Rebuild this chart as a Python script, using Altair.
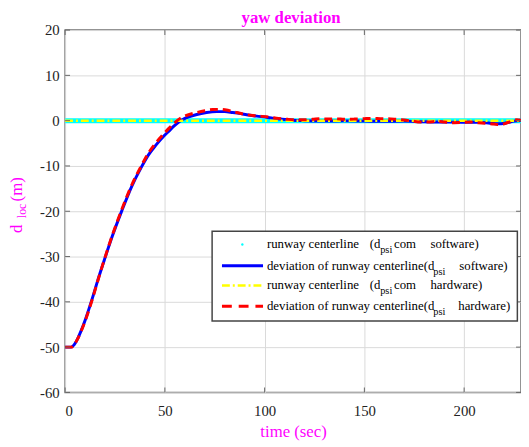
import altair as alt
import pandas as pd

# ---------------- data ----------------
t_sw = [0, 3, 4.5, 6, 8, 10.4, 13.6, 16.9, 20, 23.5, 28.5, 33.4, 38.3, 41.7, 45.5, 49.5, 52,
        54.8, 57.3, 60, 65.5, 70.9, 76, 80, 84, 88, 91, 96, 101, 104, 108, 114, 120,
        130, 140, 150, 160, 170, 180, 190, 200, 207, 213, 217, 221, 225, 228.5]
d_sw = [-50, -50, -49.5, -48.4, -46.4, -43.6, -39.3, -34.5, -30.3, -25.7, -19.8, -14.5, -10.2,
        -7.6, -5.4, -3.4, -2.3, -1.1, -0.2, 0.5, 1.3, 1.8, 2.0, 2.0, 1.8, 1.55, 1.3, 1.0, 0.75,
        0.55, 0.35, 0.1, 0.0, -0.1, -0.05, -0.1, -0.15, -0.1, -0.25, -0.3, -0.35,
        -0.35, -0.55, -0.7, -0.5, -0.1, 0.1]

t_hw = [0, 3, 4.5, 6, 8, 10.4, 13.6, 16.9, 20, 23.5, 28.5, 33.4, 38.3, 41.7, 45.5, 49.5, 52,
        54.8, 57.3, 60, 65.5, 70, 74, 78, 82, 86, 90, 95, 102, 107, 111.6, 116, 120, 124,
        128, 132, 136, 140, 145, 150, 154, 158, 162, 166, 170, 174, 178, 182, 186.6, 190, 194.8,
        199, 203, 207, 211, 215, 218, 222, 226.4, 228.5]
d_hw = [-50, -50, -49.5, -48.4, -46.5, -43.8, -39.5, -34.6, -30.2, -25.5, -19.5, -14.2, -9.9,
        -7.2, -4.9, -2.9, -1.7, -0.5, 0.4, 1.0, 1.75, 2.2, 2.45, 2.5, 2.25,
        1.8, 1.4, 1.1, 0.8, 0.5, 0.3, 0.2, 0.2, 0.3, 0.43, 0.35, 0.4, 0.3, 0.35, 0.45, 0.5, 0.45,
        0.43, 0.3, 0.13, -0.1, -0.3, -0.3, -0.15, -0.3, -0.45, -0.4, -0.3, -0.45, -0.6, -0.75,
        -0.9, -0.4, 0.2, 0.1]

t_ref = [0, 228.5]
d_ref = [0, 0]

x_ticks = [0, 50, 100, 150, 200]
y_ticks = [-60, -50, -40, -30, -20, -10, 0, 10, 20]

# ---------------- style ----------------
SERIF = "Liberation Serif"
MAG = "#ff00ff"
W, H = 463, 368
X_MAX = 228.5

x_enc = alt.X("t:Q", scale=alt.Scale(domain=[0, X_MAX], nice=False, zero=False),
              axis=alt.Axis(values=x_ticks, title="time (sec)", labelExpr="'' + datum.value"))
y_enc = alt.Y("v:Q", scale=alt.Scale(domain=[-60, 20], nice=False),
              axis=alt.Axis(values=y_ticks, title=None, labelExpr="'' + datum.value"))

one = pd.DataFrame({"a": [0]})


def curve(ts, vs, color, width, dash=None):
    df = pd.DataFrame({"t": ts, "v": vs})
    kw = dict(color=color, strokeWidth=width, interpolate="monotone", clip=True)
    if dash:
        kw["strokeDash"] = dash
    return alt.Chart(df).mark_line(**kw).encode(x=x_enc, y=y_enc)


cyan = curve(t_ref, d_ref, "#00ffff", 5)
blue = curve(t_sw, d_sw, "#0000ff", 3)
yellow = curve(t_ref, d_ref, "#ffff00", 2.5, [8, 3, 2, 3])
red = curve(t_hw, d_hw, "#ff0000", 3, [8, 5])

# inside ticks
xt = pd.DataFrame({"t": x_ticks})
yt = pd.DataFrame({"v": y_ticks})
TK = "#666666"
ticks = [
    alt.Chart(xt).mark_rule(color=TK, strokeWidth=1).encode(x=x_enc, y=alt.value(H), y2=alt.value(H - 5)),
    alt.Chart(xt).mark_rule(color=TK, strokeWidth=1).encode(x=x_enc, y=alt.value(0), y2=alt.value(5)),
    alt.Chart(yt).mark_rule(color=TK, strokeWidth=1).encode(y=y_enc, x=alt.value(0), x2=alt.value(5)),
    alt.Chart(yt).mark_rule(color=TK, strokeWidth=1).encode(y=y_enc, x=alt.value(W), x2=alt.value(W - 5)),
]


def txt(s, x, y, size=13.0, color="black", angle=0, baseline="middle", align="left", weight="normal"):
    return alt.Chart(one).mark_text(text=s, font=SERIF, fontSize=size, align=align,
                                    baseline=baseline, color=color, angle=angle,
                                    fontWeight=weight).encode(
        x=alt.value(x), y=alt.value(y))


# legend
LX0, LX1, LY0, LY1 = 149.3, 459.3, 204.4, 295.4
rows = [217.7, 239.4, 259.4, 280.4]
SX0, SX1 = 159.3, 201
legend = [
    alt.Chart(one).mark_rect(fill="white", stroke="#444444", strokeWidth=1.5).encode(
        x=alt.value(LX0), x2=alt.value(LX1), y=alt.value(LY0), y2=alt.value(LY1)),
    alt.Chart(one).mark_point(filled=True, color="#00ffff", size=6, opacity=1).encode(
        x=alt.value(180), y=alt.value(rows[0])),
    alt.Chart(one).mark_rule(color="#0000ff", strokeWidth=3).encode(
        x=alt.value(SX0), x2=alt.value(SX1), y=alt.value(rows[1])),
    alt.Chart(one).mark_rule(color="#ffff00", strokeWidth=2.5, strokeDash=[8, 3, 2, 3]).encode(
        x=alt.value(SX0), x2=alt.value(SX1), y=alt.value(rows[2])),
    alt.Chart(one).mark_rule(color="#ff0000", strokeWidth=3, strokeDash=[10, 7]).encode(
        x=alt.value(SX0), x2=alt.value(SX1), y=alt.value(rows[3])),
]
TX = 205
SUB = 6
for r, kind in ((rows[0], "software)"), (rows[2], "hardware)")):
    legend += [txt("runway centerline", TX, r), txt("(d", 309.3, r),
               txt("psi", 320, r + SUB, size=10.5), txt("com", 334, r),
               txt(kind, 371, r)]
for r, kind, kx in ((rows[1], "software)", 400.3), (rows[3], "hardware)", 399.3)):
    legend += [txt("deviation of runway centerline(d", TX, r),
               txt("psi", 374, r + SUB, size=10.5), txt(kind, kx, r)]

# y axis title  d_loc (m)
ytitle = [
    txt("d", -43.5, 206, size=17, color=MAG, angle=270, baseline="alphabetic"),
    txt("loc", -39.5, 191, size=12, color=MAG, angle=270, baseline="alphabetic"),
    txt("(m)", -43.5, 174, size=17, color=MAG, angle=270, baseline="alphabetic"),
]

# chart title
title = txt("yaw deviation", 229.5, -7.5, size=17, color=MAG, baseline="alphabetic",
            align="center", weight="bold")

chart = alt.layer(cyan, blue, yellow, red, *ticks, *legend, *ytitle, title).properties(
    width=W, height=H,
    autosize=alt.AutoSizeParams(type="none"),
    padding={"left": 58, "top": 19, "right": 0, "bottom": 52},
).configure_view(stroke="#707070", strokeWidth=1.5).configure_axis(
    grid=True, gridColor="#d9d9d9", gridWidth=1, ticks=False, domain=False,
    labelFont=SERIF, labelFontSize=15, labelColor="#222222",
    titleFont=SERIF, titleFontSize=17, titleColor=MAG, titleFontWeight="normal",
).configure_axisX(labelPadding=11, titlePadding=6).configure_axisY(labelPadding=6)

chart.save("out.html", embed_options={"renderer": "svg", "actions": False})
